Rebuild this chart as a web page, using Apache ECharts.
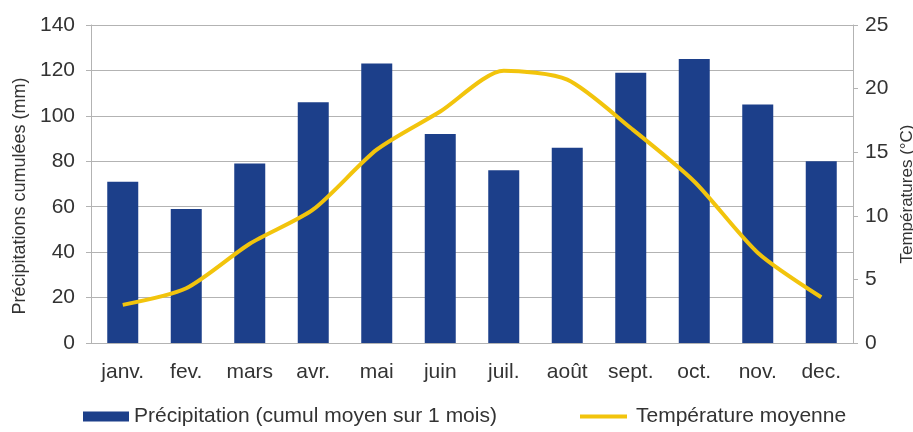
<!DOCTYPE html>
<html>
<head>
<meta charset="utf-8">
<script src="https://cdn.jsdelivr.net/npm/echarts@6/dist/echarts.min.js"></script>
<style>
html, body { margin: 0; padding: 0; background: #fff; }
#main { width: 913px; height: 432px; }
</style>
</head>
<body>
<div id="main"></div>
<script>
var months = ['janv.', 'fev.', 'mars', 'avr.', 'mai', 'juin', 'juil.', 'août', 'sept.', 'oct.', 'nov.', 'dec.'];
var precipitation = [71, 59, 79, 106, 123, 92, 76, 86, 119, 125, 105, 80];
var temperature = [3.0, 4.3, 7.8, 10.5, 15.2, 18.2, 21.4, 20.7, 16.9, 12.7, 7.1, 3.6];

var chartDom = document.getElementById('main');
var myChart = echarts.init(chartDom);
var font = 'Liberation Sans';
var barColor = '#1c3f8a';
var lineColor = '#f2c40c';
var txt = '#333333';

var option = {
    backgroundColor: '#ffffff',
    animation: false,
    textStyle: { fontFamily: font },
    grid: { left: 91, right: 60, top: 25, bottom: 89, outerBoundsMode: 'none' },
    legend: [{
        left: 83,
        top: 406,
        padding: 0,
        itemWidth: 46,
        itemHeight: 10,
        data: [{ name: 'Précipitation (cumul moyen sur 1 mois)', icon: 'rect' }],
        textStyle: { fontSize: 21, color: txt, fontFamily: font }
    }, {
        left: 580,
        top: 406,
        padding: 0,
        itemWidth: 47,
        itemHeight: 4,
        data: [{ name: 'Température moyenne', icon: 'rect' }],
        textStyle: { fontSize: 21, color: txt, fontFamily: font, padding: [0, 0, 0, 4] }
    }],
    xAxis: {
        type: 'category',
        data: months,
        axisLine: { lineStyle: { color: '#b3b3b3' } },
        axisTick: { alignWithLabel: false, length: 5, lineStyle: { color: '#b3b3b3' } },
        axisLabel: { fontSize: 21, color: txt, margin: 19 }
    },
    yAxis: [{
        type: 'value',
        min: 0,
        max: 140,
        interval: 20,
        name: 'Précipitations cumulées (mm)',
        nameLocation: 'middle',
        nameGap: 59,
        nameTextStyle: { fontSize: 18, color: txt, padding: [0, 24, 0, 0] },
        axisLine: { show: true, lineStyle: { color: '#b3b3b3' } },
        axisTick: { show: true, length: 5, lineStyle: { color: '#b3b3b3' } },
        axisLabel: { fontSize: 21, color: txt, margin: 16 },
        splitLine: { lineStyle: { color: '#b3b3b3' } }
    }, {
        type: 'value',
        min: 0,
        max: 25,
        interval: 5,
        name: 'Températures (°C)',
        nameLocation: 'middle',
        nameGap: 44,
        nameTextStyle: { fontSize: 17, color: txt, padding: [0, 20, 0, 0] },
        axisLine: { show: true, lineStyle: { color: '#b3b3b3' } },
        axisTick: { show: true, length: 5, lineStyle: { color: '#b3b3b3' } },
        axisLabel: { fontSize: 21, color: txt, margin: 12 },
        splitLine: { show: false }
    }],
    series: [{
        name: 'Précipitation (cumul moyen sur 1 mois)',
        type: 'bar',
        data: precipitation,
        barWidth: 31,
        itemStyle: { color: barColor }
    }, {
        name: 'Température moyenne',
        type: 'line',
        yAxisIndex: 1,
        data: temperature,
        smooth: 0.25,
        symbol: 'none',
        lineStyle: { color: lineColor, width: 4 },
        itemStyle: { color: lineColor }
    }]
};

option && myChart.setOption(option);
</script>
</body>
</html>
